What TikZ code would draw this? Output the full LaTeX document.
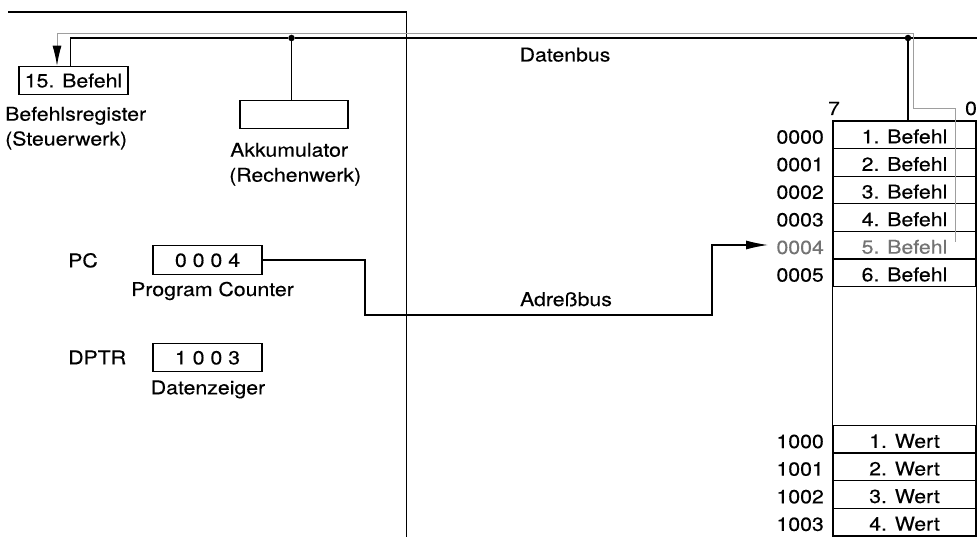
\documentclass[tikz,border=0pt]{standalone}
\usepackage{fontspec}
\setmainfont{TeX Gyre Heros}[FakeStretch=1.12,FakeBold=0.3]
\usetikzlibrary{arrows.meta,calc}
\definecolor{busgray}{gray}{0.62}
\definecolor{txtgray}{gray}{0.45}
\begin{document}
\begin{tikzpicture}[x=1pt,y=-1pt,
  every node/.style={font=\fontsize{19}{22}\selectfont, inner sep=0pt},
  reg/.style={draw, line width=1.2pt, minimum width=109pt, minimum height=28.5pt, text height=13.8pt, text depth=0pt},
  cell/.style={draw, line width=1.3pt, minimum width=143pt, minimum height=27.6pt, text height=17pt, text depth=0pt},
  lbl/.style={anchor=base west},
  addr/.style={anchor=base east},
  bus/.style={line width=1.2pt},
  gbus/.style={line width=0.9pt, busgray},
  junction/.style={circle, fill, inner sep=0pt, minimum size=6.5pt}]
\useasboundingbox (0,0) rectangle (977,537);

% frame
\coordinate (f1) at (8,12);
\coordinate (f2) at (406.5,12);
\coordinate (f3) at (406.5,537);
\draw[line width=1.5pt] (f1) -- (f2) -- (f3);

% registers
\node[reg] (ir) at (73.5,80.5) {15. Befehl};
\node[reg, minimum width=108pt] (acc) at (294,114.5) {};
\node[reg] (pc) at (207.5,260) {0 0 0 4};
\node[reg] (dptr) at (207.5,357.5) {1 0 0 3};

% labels
\node[lbl] (irl1) at (5,120.7) {Befehlsregister};
\node[lbl] (irl2) at (5,145.5) {(Steuerwerk)};
\node[lbl] (accl1) at (230,156.7) {Akkumulator};
\node[lbl] (accl2) at (229,181.7) {(Rechenwerk)};
\node[lbl] (pcl) at (68,267.3) {PC};
\node[anchor=base] (pcn) at (212.5,296) {Program Counter};
\node[lbl] (dpl) at (68,364.3) {DPTR};
\node[anchor=base] (dpn) at (208,394.3) {Datenzeiger};
\node[anchor=base] (db) at (565,61.5) {Datenbus};
\node[anchor=base] (ab) at (566,306) {Adreßbus};
\node[anchor=base] (b7) at (834,115) {7};
\node[anchor=base] (b0) at (971,115) {0};

% memory
\foreach \i/\t in {0/1. Befehl,1/2. Befehl,2/3. Befehl,3/4. Befehl,5/6. Befehl}{
  \node[cell] (c\i) at (904.5,{134.8+27.6*\i}) {\t};
  \node[addr] (a\i) at (824,{143.6+27.6*\i}) {000\i};
}
\node[cell, text=txtgray] (c4) at (904.5,{134.8+27.6*4}) {5. Befehl};
\node[addr, txtgray] (a4) at (824,{143.6+27.6*4}) {0004};
\foreach \i/\t in {1/1. Wert,2/2. Wert,3/3. Wert,4/4. Wert}{
  \node[cell] (w\i) at (904.5,{439.3+27.6*(\i-1)}) {\t};
  \node[addr] (m\i) at (824,{448.1+27.6*(\i-1)}) {100\the\numexpr\i-1\relax};
}
\draw[line width=1.3pt] (c0.north west) rectangle (w4.south east);

% data bus
\node[junction] (d1) at (291.5,38) {};
\node[junction] (d2) at (908,38) {};
\coordinate (busend) at (977,38);
\draw[bus] ([xshift=-3pt]ir.north) |- (d1) -- (d2) -- (busend);
\draw[bus] (d1) -- (d1 |- acc.north);
\draw[bus] (d2) -- (d2 |- c0.north);

% gray read path
\coordinate (g0) at (955,242);
\coordinate (g1) at (955,108);
\coordinate (g2) at (913,108);
\coordinate (g3) at (913,33.5);
\coordinate (g4) at (57,33.5);
\draw[gbus, -{Latex[length=20pt,width=9pt,black]}] (g0) -- (g1) -- (g2) -- (g3) -- (g4) -- (g4 |- ir.north);

% address bus
\coordinate (p1) at (365,260);
\coordinate (p2) at (365,315);
\coordinate (p3) at (712,315);
\coordinate (p4) at (712,245);
\coordinate (tip) at (768,245);
\draw[bus, -{Latex[length=22pt,width=9pt]}] (pc.east) -- (p1) -- (p2) -- (p3) -- (p4) -- (tip);
\end{tikzpicture}
\end{document}
